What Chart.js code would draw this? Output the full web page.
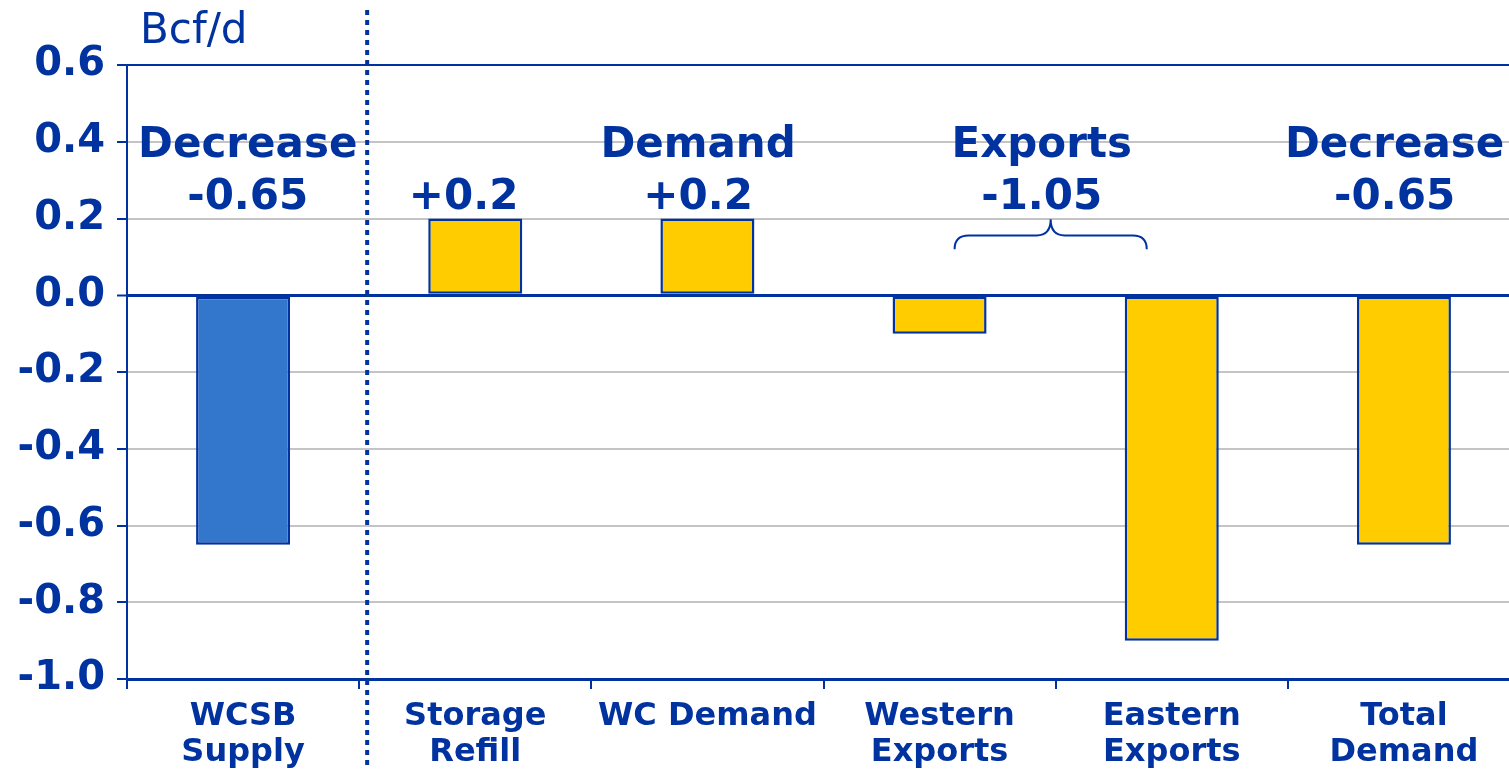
<!DOCTYPE html>
<html>
<head>
<meta charset="utf-8">
<script src="https://cdn.jsdelivr.net/npm/chart.js@4.4.1/dist/chart.umd.min.js"></script>
<style>
  html, body { margin: 0; padding: 0; background: #fff; overflow: hidden; }
  #wrap { position: relative; width: 1521px; height: 772px; }
</style>
</head>
<body>
<div id="wrap"><canvas id="grafico-balanco"></canvas></div>
<script>
const categorias = [['WCSB', 'Supply'], ['Storage', 'Refill'], 'WC Demand', ['Western', 'Exports'], ['Eastern', 'Exports'], ['Total', 'Demand']];
const valores = [-0.65, 0.2, 0.2, -0.1, -0.9, -0.65];
const coresBarras = ['#3377cc', '#ffcc00', '#ffcc00', '#ffcc00', '#ffcc00', '#ffcc00'];
const yTicks = [0.6, 0.4, 0.2, 0.0, -0.2, -0.4, -0.6, -0.8, -1.0];

// texto das caixas: posição na categoria + duas linhas
const notasPos = [0.02, 0.95, 1.96, 3.44, 4.96];
const notasTopo = ['Decrease', '', 'Demand', 'Exports', 'Decrease'];
const notasBase = ['-0.65', '+0.2', '+0.2', '-1.05', '-0.65'];

const AZUL = '#0033a0';
const FONTE = '"DejaVu Sans", Verdana, sans-serif';

const anotacoes = {
    id: 'anotacoes',
    afterDatasetsDraw(chart) {
        const { ctx, scales: { x, y } } = chart;
        const px = (i) => {
            const a = Math.floor(i), b = Math.min(a + 1, categorias.length - 1);
            const pa = x.getPixelForValue(a), pb = x.getPixelForValue(b);
            return pa + (i - a) * (b === a ? 0 : (pb - pa));
        };
        ctx.save();
        ctx.fillStyle = AZUL;
        ctx.textAlign = 'center';
        ctx.textBaseline = 'alphabetic';
        ctx.font = 'bold 42px ' + FONTE;
        notasPos.forEach((p, i) => {
            const cx = px(p);
            if (notasTopo[i]) ctx.fillText(notasTopo[i], cx, y.getPixelForValue(0.36));
            ctx.fillText(notasBase[i], cx, y.getPixelForValue(0.226));
        });

        // chave sobre as exportações
        const esq = x.getPixelForValue(3) + 15;
        const dir = x.getPixelForValue(4) - 25;
        const meio = (esq + dir) / 2;
        const yPonta = y.getPixelForValue(0.198);
        const yMeio = y.getPixelForValue(0.156);
        const yFim = y.getPixelForValue(0.12);
        const r = 14;
        ctx.strokeStyle = AZUL;
        ctx.lineWidth = 2;
        ctx.beginPath();
        ctx.moveTo(esq, yFim);
        ctx.quadraticCurveTo(esq, yMeio, esq + r, yMeio);
        ctx.lineTo(meio - r, yMeio);
        ctx.quadraticCurveTo(meio, yMeio, meio, yPonta);
        ctx.quadraticCurveTo(meio, yMeio, meio + r, yMeio);
        ctx.lineTo(dir - r, yMeio);
        ctx.quadraticCurveTo(dir, yMeio, dir, yFim);
        ctx.stroke();

        // unidade
        ctx.textAlign = 'left';
        ctx.font = '42px ' + FONTE;
        ctx.fillText('Bcf/d', chart.chartArea.left + 13, 43);
        ctx.restore();
    },
    afterDraw(chart) {
        const { ctx, scales: { x } } = chart;
        const xs = (x.getPixelForValue(0) + x.getPixelForValue(1)) / 2 + 8;
        ctx.save();
        ctx.strokeStyle = AZUL;
        ctx.lineWidth = 4;
        ctx.setLineDash([5, 5]);
        ctx.beginPath();
        ctx.moveTo(xs, 10);
        ctx.lineTo(xs, 766);
        ctx.stroke();
        ctx.restore();
    }
};

const ctx = document.getElementById('grafico-balanco').getContext('2d');
const grafico = new Chart(ctx, {
    type: 'bar',
    data: {
        labels: categorias,
        datasets: [{
            data: valores,
            backgroundColor: coresBarras,
            borderColor: AZUL,
            borderWidth: 2.5,
            borderSkipped: false,
            inflateAmount: 0,
            barPercentage: 0.405,
            categoryPercentage: 1
        }]
    },
    options: {
        responsive: true,
        maintainAspectRatio: false,
        animation: false,
        layout: { padding: { top: 65, right: 1, left: 0, bottom: 0 } },
        plugins: {
            legend: { display: false },
            tooltip: { enabled: false }
        },
        scales: {
            x: {
                afterFit(scale) { scale.height = 93; },
                grid: {
                    offset: true,
                    drawOnChartArea: false,
                    color: AZUL,
                    lineWidth: 2,
                    tickLength: 10
                },
                border: { color: AZUL, width: 3 },
                ticks: {
                    color: AZUL,
                    padding: 9,
                    maxRotation: 0,
                    autoSkip: false,
                    font: { family: FONTE, size: 32, weight: 'bold', lineHeight: 1.14 }
                }
            },
            y: {
                min: -1.0,
                max: 0.6,
                afterFit(scale) { scale.width = 127; },
                afterBuildTicks(scale) { scale.ticks = yTicks.map(v => ({ value: v })); },
                grid: {
                    color: (c) => {
                        const v = c.tick.value;
                        return (Math.abs(v) < 1e-9 || v === 0.6 || v === -1.0) ? AZUL : '#c4c4c4';
                    },
                    lineWidth: (c) => Math.abs(c.tick.value) < 1e-9 ? 3 : 2,
                    tickColor: AZUL,
                    tickWidth: 2,
                    tickLength: 10
                },
                border: { color: AZUL, width: 2 },
                ticks: {
                    color: AZUL,
                    padding: 12,
                    font: { family: FONTE, size: 40, weight: 'bold' },
                    callback: (v) => Number(v).toFixed(1)
                }
            }
        }
    },
    plugins: [anotacoes]
});
</script>
</body>
</html>
